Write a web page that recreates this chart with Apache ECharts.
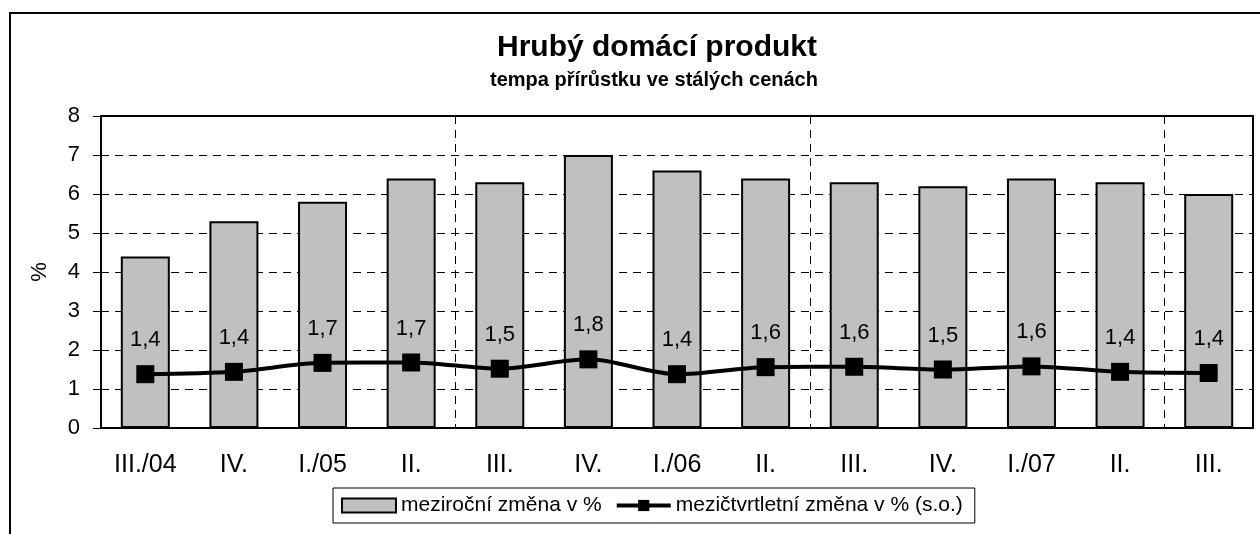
<!DOCTYPE html>
<html><head><meta charset="utf-8">
<script src="https://cdn.jsdelivr.net/npm/echarts@6/dist/echarts.min.js"></script>
<style>html,body{margin:0;padding:0;background:#fff}#c{width:1260px;height:534px}</style>
</head><body><div id="c"></div>
<script>
const categories = ['III./04','IV.','I./05','II.','III.','IV.','I./06','II.','III.','IV.','I./07','II.','III.'];
const yoyValues = [4.4,5.3,5.8,6.4,6.3,7.0,6.6,6.4,6.3,6.2,6.4,6.3,6.0];
const qoqValues = [1.38,1.44,1.67,1.68,1.52,1.76,1.38,1.56,1.57,1.50,1.58,1.44,1.41];
const seriesNames = ['meziroční změna v %','mezičtvrtletní změna v % (s.o.)'];
const FONT = '"Liberation Sans", Arial, sans-serif';

const chart = echarts.init(document.getElementById('c'), null, {renderer:'canvas'});
chart.setOption({
  animation:false,
  backgroundColor:'#fff',
  textStyle:{fontFamily:FONT,color:'#000'},
  graphic:[{type:'rect',shape:{x:10,y:13,width:1270,height:540},style:{fill:'none',stroke:'#000',lineWidth:2},silent:true}],
  title:[
    {text:'Hrubý domácí produkt', left:657, top:33, textAlign:'center', padding:0,
     textStyle:{fontFamily:FONT,fontSize:30,fontWeight:'bold',color:'#000'}},
    {text:'tempa přírůstku ve stálých cenách', left:654, top:70, textAlign:'center', padding:0,
     textStyle:{fontFamily:FONT,fontSize:20,fontWeight:'bold',color:'#000'}}
  ],
  legend:{
    left:333, top:488, padding:[7,12,7,8], itemGap:13,
    borderColor:'#000', borderWidth:1, itemWidth:54, itemHeight:14,
    textStyle:{fontFamily:FONT,fontSize:21,color:'#000'},
    data:[
      {name:seriesNames[0],icon:'rect',itemStyle:{color:'#c0c0c0',borderColor:'#000',borderWidth:2}},
      {name:seriesNames[1],lineStyle:{color:'#000',width:4},itemStyle:{color:'#000'}}
    ]
  },
  grid:{left:101,right:7,top:116,bottom:106,show:true,borderColor:'#000',borderWidth:2,containLabel:false},
  xAxis:{
    type:'category', data:categories, boundaryGap:true,
    axisLine:{lineStyle:{color:'#000',width:2}},
    axisTick:{show:false},
    axisLabel:{color:'#000',fontFamily:FONT,fontSize:25,margin:25},
    splitLine:{show:true,interval:3,lineStyle:{color:'#000',type:[8,6],width:1}}
  },
  yAxis:{
    type:'value', min:0, max:8, interval:1,
    name:'%', nameLocation:'middle', nameRotate:90, nameGap:50,
    nameTextStyle:{fontFamily:FONT,fontSize:22,color:'#000'},
    axisLine:{show:true,lineStyle:{color:'#000',width:2}},
    axisTick:{show:true,length:8,lineStyle:{color:'#000'}},
    axisLabel:{color:'#000',fontFamily:FONT,fontSize:22,margin:21},
    splitLine:{show:true,lineStyle:{color:'#000',type:[8,6],width:1}}
  },
  series:[
    {name:seriesNames[0],type:'bar',data:yoyValues,barWidth:49,
     itemStyle:{color:'#c0c0c0',borderColor:'#000',borderWidth:2}},
    {name:seriesNames[1],type:'line',data:qoqValues,smooth:0.3,
     symbol:'rect',symbolSize:18,showAllSymbol:true,
     lineStyle:{color:'#000',width:4},itemStyle:{color:'#000'},
     label:{show:true,position:'top',distance:14,fontFamily:FONT,fontSize:22,color:'#000',
       formatter:p=>p.value.toFixed(1).replace('.',',')}}
  ]
});
</script></body></html>
